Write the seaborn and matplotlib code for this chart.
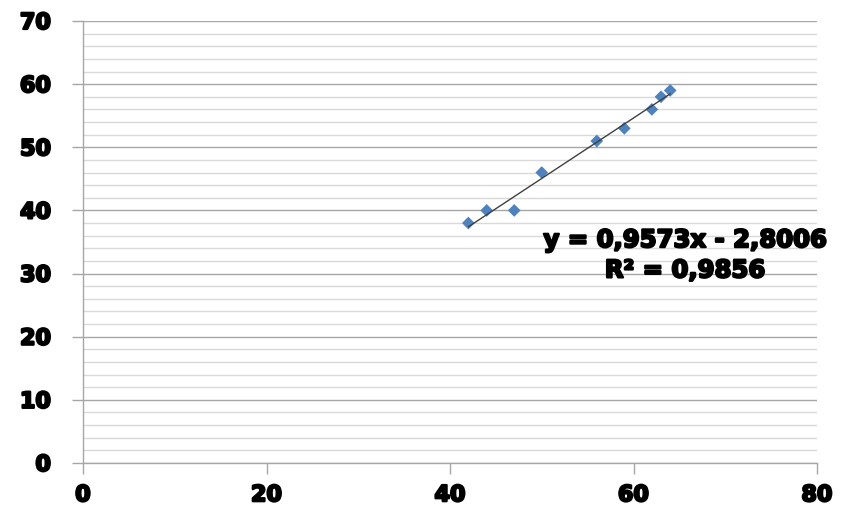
import numpy as np
import pandas as pd
import seaborn as sns
import matplotlib.pyplot as plt
import matplotlib.patheffects as pe
from matplotlib.ticker import MultipleLocator

x_vals = [42, 44, 47, 50, 56, 59, 62, 63, 64]
y_vals = [38, 40, 40, 46, 51, 53, 56, 58, 59]
x_ticks = [0, 20, 40, 60, 80]
y_ticks = [0, 10, 20, 30, 40, 50, 60, 70]

df = pd.DataFrame({"x": x_vals, "y": y_vals})

sns.set_style("white")
plt.rcParams["font.family"] = ["DejaVu Sans"]
plt.rcParams["text.color"] = "black"

heavy = [pe.withStroke(linewidth=1.6, foreground="black")]

fig = plt.figure(figsize=(8.57, 5.06), dpi=100)
ax = fig.add_axes([83 / 857, 42 / 506, 734 / 857, 442 / 506])

sns.regplot(
    data=df, x="x", y="y", ax=ax, ci=None, truncate=True,
    marker="D",
    scatter_kws={"color": "#4F81BD", "s": 42, "alpha": 1,
                 "edgecolors": "none", "zorder": 3},
    line_kws={"color": "#404040", "lw": 1, "zorder": 4},
)

# trend line equation, Excel style with decimal comma
slope, intercept = np.polyfit(x_vals, y_vals, 1)
r2 = np.corrcoef(x_vals, y_vals)[0, 1] ** 2
sign = "-" if intercept < 0 else "+"
eq = f"y = {slope:.4f}x {sign} {abs(intercept):.4f}".replace(".", ",")
r2_txt = f"R² = {r2:.4f}".replace(".", ",")
ax.text(65.6, 35.3, eq, ha="center", va="center", fontsize=17.5,
        fontweight="bold", color="black", clip_on=False, zorder=5,
        path_effects=heavy)
ax.text(65.6, 30.5, r2_txt, ha="center", va="center", fontsize=17.5,
        fontweight="bold", color="black", clip_on=False, zorder=5,
        path_effects=heavy)

ax.set_xlim(0, 80)
ax.set_ylim(0, 70)
ax.set_xticks(x_ticks)
ax.set_yticks(y_ticks)
ax.yaxis.set_minor_locator(MultipleLocator(2))
ax.grid(False)
ax.grid(True, axis="y", which="major", color="#a6a6a6", lw=1)
ax.grid(True, axis="y", which="minor", color="#d9d9d9", lw=1)
ax.set_axisbelow(True)

ax.set_xlabel("")
ax.set_ylabel("")
for side in ["top", "right"]:
    ax.spines[side].set_visible(False)
for side in ["left", "bottom"]:
    ax.spines[side].set_color("#a6a6a6")
    ax.spines[side].set_linewidth(1)

ax.tick_params(axis="both", which="major", direction="out", length=8,
               width=1, color="#a6a6a6", labelsize=16, labelcolor="black",
               bottom=True, left=True)
ax.tick_params(axis="y", which="minor", length=0)
ax.tick_params(axis="x", pad=8)
ax.tick_params(axis="y", pad=15)
for lbl in ax.get_xticklabels() + ax.get_yticklabels():
    lbl.set_fontweight("bold")
    lbl.set_path_effects(heavy)

plt.savefig("out.png", dpi=100)
